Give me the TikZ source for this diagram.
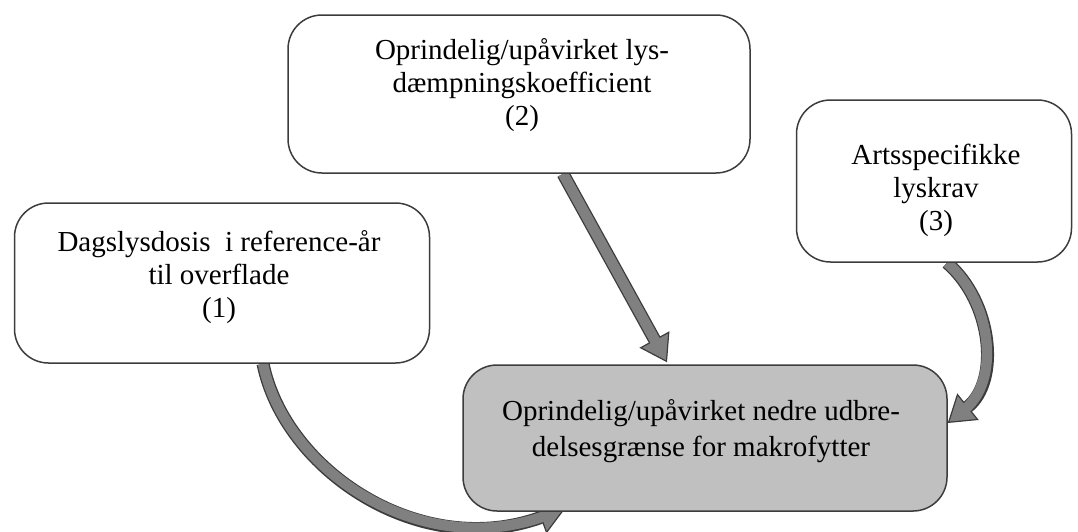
\documentclass[tikz,border=0pt]{standalone}
\usepackage{fontspec}
\setmainfont{Liberation Serif}
\usetikzlibrary{arrows.meta}
\definecolor{boxline}{HTML}{3C3C3C}
\definecolor{targetfill}{HTML}{C0C0C0}
\definecolor{arrowfill}{HTML}{808080}
\pgfdeclarelayer{bg}
\pgfsetlayers{bg,main}
\begin{document}
\begin{tikzpicture}[x=1pt,y=-1pt,
  factor/.style={draw=boxline, line width=1.5pt, rounded corners=34pt, fill=white, inner sep=0pt},
  label/.style={font=\fontsize{29}{33}\selectfont, align=center, inner sep=0pt},
  flow/.style={line width=13pt, draw=boxline,
    -{Triangle[length=26pt,width=34pt,line width=1.2pt,fill=arrowfill]}},
  flowcore/.style={line width=10.4pt, draw=arrowfill, shorten >=22pt},
]
\useasboundingbox (0,0) rectangle (1078,531);

% input boxes
\node[factor, minimum width=415pt, minimum height=160pt] (b1) at (222,283) {};
\node[factor, minimum width=462pt, minimum height=158pt] (b2) at (519,94) {};
\node[factor, minimum width=275pt, minimum height=162pt] (b3) at (934,181) {};
% result box
\node[factor, fill=targetfill, minimum width=484pt, minimum height=146pt] (res) at (705,438) {};

% box texts
\node[label] (t1) at (219,277) {Dagslysdosis \ i reference-år\\til overflade\\(1)};
\node[label] (t2) at (522,85) {Oprindelig/upåvirket lys-\\dæmpningskoefficient\\(2)};
\node[label] (t3) at (936,190) {Artsspecifikke\\lyskrav\\(3)};
\node[label, font=\fontsize{29}{36}\selectfont] (t4) at (701,431)
  {Oprindelig/upåvirket nedre udbre-\\delsesgrænse for makrofytter};

% block arrows behind the boxes
\begin{pgfonlayer}{bg}
  \coordinate (a1s) at ([xshift=41pt]b1.south);
  \coordinate (a1e) at ([xshift=-140pt,yshift=3pt]res.south);
  \draw[flow] (a1s) .. controls +(22,107) and +(-145,52) .. (a1e);
  \draw[flowcore] (a1s) .. controls +(22,107) and +(-145,52) .. (a1e);

  \coordinate (a2s) at ([xshift=44pt]b2.south);
  \coordinate (a2e) at ([xshift=-38pt,yshift=2pt]res.north);
  \draw[flow] (a2s) -- (a2e);
  \draw[flowcore] (a2s) -- (a2e);

  \coordinate (a3s) at ([xshift=13pt]b3.south);
  \coordinate (a3e) at ([yshift=15pt]res.east);
  \draw[flow] (a3s) .. controls +(46,40) and +(52,-42) .. (a3e);
  \draw[flowcore] (a3s) .. controls +(46,40) and +(52,-42) .. (a3e);
\end{pgfonlayer}
\end{tikzpicture}
\end{document}
